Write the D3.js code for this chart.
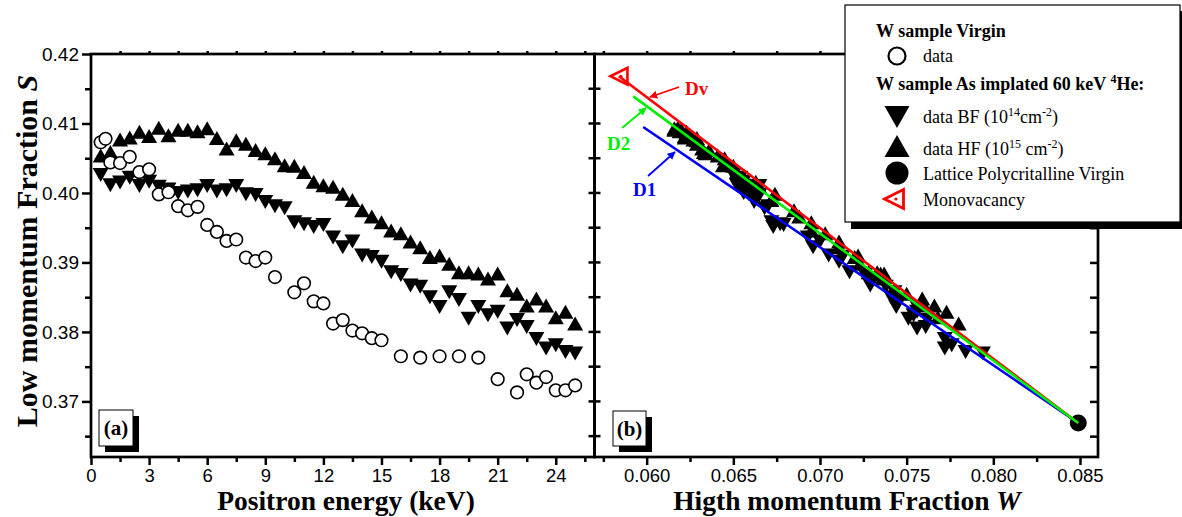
<!DOCTYPE html>
<html><head><meta charset="utf-8">
<script src="https://cdn.jsdelivr.net/npm/d3@7"></script>
<style>body{margin:0;background:#fff}</style>
</head><body><svg id="c" width="1182" height="517"></svg>
<script>
// ---------- DATA ----------
// Panel (a): S vs positron energy
const energyImpl = [0.5,1,1.5,2,2.5,3,3.5,4,4.5,5,5.5,6,6.5,7,7.5,8,8.5,9,9.5,10,10.5,11,11.5,12,12.5,13,13.5,14,14.5,15,15.5,16,16.5,17,17.5,18,18.5,19,19.5,20,20.5,21,21.5,22,22.5,23,23.5,24,24.5,25];
const sBF = [0.4026,0.4011,0.4015,0.4022,0.4010,0.4016,0.4009,0.4005,0.4000,0.4002,0.4004,0.4010,0.4002,0.4004,0.4010,0.3998,0.3997,0.3987,0.3981,0.3978,0.3958,0.3955,0.3951,0.3954,0.3936,0.3922,0.3930,0.3910,0.3908,0.3901,0.3886,0.3882,0.3867,0.3865,0.3850,0.3836,0.3857,0.3846,0.3819,0.3836,0.3824,0.3829,0.3805,0.3817,0.3807,0.3790,0.3776,0.3781,0.3771,0.3769];
const sHF = [0.4054,0.4059,0.4077,0.4080,0.4088,0.4082,0.4094,0.4083,0.4091,0.4091,0.4089,0.4093,0.4079,0.4064,0.4076,0.4071,0.4062,0.4057,0.4050,0.4040,0.4039,0.4030,0.4016,0.4011,0.4009,0.3999,0.3990,0.3975,0.3966,0.3958,0.3946,0.3942,0.3930,0.3922,0.3908,0.3910,0.3898,0.3886,0.3886,0.3884,0.3877,0.3884,0.3860,0.3855,0.3838,0.3848,0.3838,0.3821,0.3829,0.3812];
const energyVirgin = [0.5,0.75,1,1.5,2,2.5,3,3.5,4,4.5,5,5.5,6,6.5,7,7.5,8,8.5,9,9.5,10.5,11,11.5,12,12.5,13,13.5,14,14.5,15,16,17,18,19,20,21,22,22.5,23,23.5,24,24.5,25];
const sVirgin = [0.4073,0.4078,0.4044,0.4043,0.4052,0.4030,0.4034,0.3998,0.4001,0.3981,0.3975,0.3980,0.3954,0.3944,0.3931,0.3933,0.3907,0.3902,0.3907,0.3879,0.3857,0.3870,0.3844,0.3841,0.3812,0.3817,0.3802,0.3798,0.3791,0.3788,0.3765,0.3763,0.3765,0.3765,0.3763,0.3732,0.3713,0.3739,0.3727,0.3735,0.3716,0.3716,0.3723];
// Panel (b): S vs W
const wBF = [0.0650,0.0652,0.0654,0.0654,0.0655,0.0656,0.0658,0.0656,0.0656,0.0661,0.0655,0.0662,0.0663,0.0658,0.0665,0.0659,0.0665,0.0662,0.0670,0.0668,0.0672,0.0677,0.0673,0.0679,0.0693,0.0696,0.0700,0.0705,0.0713,0.0711,0.0717,0.0726,0.0729,0.0738,0.0741,0.0744,0.0743,0.0744,0.0751,0.0756,0.0754,0.0756,0.0756,0.0762,0.0761,0.0772,0.0772,0.0776,0.0784,0.0794];
const wHF = [0.0641,0.0633,0.0627,0.0622,0.0623,0.0622,0.0618,0.0625,0.0616,0.0620,0.0619,0.0616,0.0629,0.0632,0.0629,0.0629,0.0636,0.0634,0.0645,0.0644,0.0650,0.0652,0.0663,0.0660,0.0665,0.0674,0.0672,0.0685,0.0688,0.0695,0.0695,0.0703,0.0711,0.0711,0.0720,0.0722,0.0723,0.0733,0.0728,0.0735,0.0736,0.0737,0.0743,0.0750,0.0760,0.0759,0.0766,0.0768,0.0773,0.0780];
const latticeWS = [0.0849, 0.3669];
const monovacWS = [0.0584, 0.4168];
const fitNames = ["D1","Dv","D2"];
const fitColors = ["#0000ff","#ff0000","#00ee00"];
const fitStartWS = [[0.0598,0.4095],[0.0584,0.4168],[0.05923,0.4139]];
// annotation: label position and arrow tail/head (W,S)
const fitLabelWS = [[0.05921,0.39956],[0.06221,0.41410],[0.05771,0.40618]];
const fitArrowWS = [[[0.06008,0.40244],[0.06163,0.40590]],[[0.06187,0.41525],[0.06019,0.41381]],[[0.05858,0.40935],[0.05996,0.41223]]];
// ticks
const sTicks = [0.37,0.38,0.39,0.40,0.41,0.42];
const sMinor = [0.365,0.375,0.385,0.395,0.405,0.415];
const eTicks = [0,3,6,9,12,15,18,21,24];
const eMinor = [1.5,4.5,7.5,10.5,13.5,16.5,19.5,22.5,25.5];
const wTicks = [0.060,0.065,0.070,0.075,0.080,0.085];
const wMinor = [0.0575,0.0625,0.0675,0.0725,0.0775,0.0825];

// ---------- DRAW ----------
const SERIF = "'Liberation Serif','Times New Roman',serif";
const SANS = "'Liberation Sans',Arial,sans-serif";
const svg = d3.select("#c");
const xA = d3.scaleLinear().domain([0,26]).range([91,594.5]);
const xB = d3.scaleLinear().domain([0.05699,0.08604]).range([594.5,1098]);
const y = d3.scaleLinear().domain([0.362,0.42]).range([457,54]);
const TOP=54, BOT=457, XL=91, XM=594.5, XR=1098;

function tri(w,h,dir){
  if(dir==="up") return `M0,${-h/2}L${w/2},${h/2}L${-w/2},${h/2}Z`;
  if(dir==="down") return `M0,${h/2}L${w/2},${-h/2}L${-w/2},${-h/2}Z`;
  return `M${-w/2},0L${w/2},${-h/2}L${w/2},${h/2}Z`;
}
function styleAxis(g, fs, noText){
  g.select(".domain").remove();
  g.selectAll(".tick line").attr("stroke","#000").attr("stroke-width",2.5);
  if(noText) g.selectAll(".tick text").remove();
  else g.selectAll(".tick text").attr("font-family",SANS).attr("font-size",fs).attr("fill","#000");
}

// panel a axes
let g;
g = svg.append("g").attr("transform",`translate(${XL},0)`).call(d3.axisLeft(y).tickValues(sTicks).tickSize(9).tickPadding(3).tickFormat(d3.format(".2f"))); styleAxis(g,19);
g = svg.append("g").attr("transform",`translate(${XL},0)`).call(d3.axisLeft(y).tickValues(sMinor).tickSize(6)); styleAxis(g,19,true);
g = svg.append("g").attr("transform",`translate(0,${BOT})`).call(d3.axisBottom(xA).tickValues(eTicks).tickSize(8).tickPadding(4).tickFormat(d3.format("d"))); styleAxis(g,18.5);
g = svg.append("g").attr("transform",`translate(0,${BOT})`).call(d3.axisBottom(xA).tickValues(eMinor.filter(v=>v<26)).tickSize(5)); styleAxis(g,19,true);
g = svg.append("g").attr("transform",`translate(0,${TOP})`).call(d3.axisTop(xA).tickValues(eTicks.concat(eMinor).filter(v=>v>0&&v<26)).tickSize(3)); styleAxis(g,19,true);
// panel b axes
g = svg.append("g").attr("transform",`translate(0,${BOT})`).call(d3.axisBottom(xB).tickValues(wTicks).tickSize(8).tickPadding(4).tickFormat(d3.format(".3f"))); styleAxis(g,18.5);
g = svg.append("g").attr("transform",`translate(0,${BOT})`).call(d3.axisBottom(xB).tickValues(wMinor).tickSize(5)); styleAxis(g,19,true);
g = svg.append("g").attr("transform",`translate(0,${TOP})`).call(d3.axisTop(xB).tickValues(wTicks.concat(wMinor)).tickSize(3)); styleAxis(g,19,true);
g = svg.append("g").attr("transform",`translate(${XR},0)`).call(d3.axisLeft(y).tickValues(sTicks.concat(sMinor).filter(v=>v<0.42)).tickSize(8)); styleAxis(g,19,true);
// shared middle axis ticks (both sides)
svg.append("g").selectAll("line").data(sTicks.concat(sMinor).filter(v=>v<0.42)).join("line")
  .attr("x1",XM-6).attr("x2",XM+6).attr("y1",d=>y(d)).attr("y2",d=>y(d)).attr("stroke","#000").attr("stroke-width",2.5);

// frames
svg.append("rect").attr("x",XL).attr("y",TOP).attr("width",XM-XL).attr("height",BOT-TOP).attr("fill","none").attr("stroke","#000").attr("stroke-width",2.7);
svg.append("rect").attr("x",XM).attr("y",TOP).attr("width",XR-XM).attr("height",BOT-TOP).attr("fill","none").attr("stroke","#000").attr("stroke-width",2.7);

// panel a data
const pa = svg.append("g");
pa.selectAll(".bf").data(sBF).join("path").attr("d",tri(16,14,"down"))
  .attr("transform",(d,i)=>`translate(${xA(energyImpl[i])},${y(d)})`).attr("fill","#000");
pa.selectAll(".hf").data(sHF).join("path").attr("d",tri(16,14,"up"))
  .attr("transform",(d,i)=>`translate(${xA(energyImpl[i])},${y(d)})`).attr("fill","#000");
pa.selectAll("circle").data(sVirgin).join("circle")
  .attr("cx",(d,i)=>xA(energyVirgin[i])).attr("cy",d=>y(d)).attr("r",6.3)
  .attr("fill","#fff").attr("stroke","#000").attr("stroke-width",1.6);

// panel b data
const pb = svg.append("g");
pb.selectAll(".bf").data(sBF).join("path").attr("d",tri(16,14,"down"))
  .attr("transform",(d,i)=>`translate(${xB(wBF[i])},${y(d)})`).attr("fill","#000");
pb.selectAll(".hf").data(sHF).join("path").attr("d",tri(16,14,"up"))
  .attr("transform",(d,i)=>`translate(${xB(wHF[i])},${y(d)})`).attr("fill","#000");
pb.append("circle").attr("cx",xB(latticeWS[0])).attr("cy",y(latticeWS[1])).attr("r",8.5).attr("fill","#000");
pb.append("path").attr("d",tri(17,17,"left")).attr("transform",`translate(${xB(monovacWS[0])},${y(monovacWS[1])})`)
  .attr("fill","#fff").attr("stroke","#ff0000").attr("stroke-width",2.6);
pb.append("circle").attr("cx",xB(monovacWS[0])+2).attr("cy",y(monovacWS[1])).attr("r",1.5).attr("fill","#ff0000");
const lineGen = d3.line().x(d=>xB(d[0])).y(d=>y(d[1]));
fitNames.forEach((n,i)=>{
  pb.append("path").attr("d",lineGen([fitStartWS[i],latticeWS])).attr("stroke",fitColors[i]).attr("stroke-width",2.6).attr("fill","none");
});
// arrows + labels
const defs = svg.append("defs");
fitNames.forEach((n,i)=>{
  defs.append("marker").attr("id","ah"+i).attr("viewBox","0 0 10 10").attr("refX",9).attr("refY",5)
    .attr("markerWidth",4.5).attr("markerHeight",4.5).attr("orient","auto")
    .append("path").attr("d","M0,0L10,5L0,10Z").attr("fill",fitColors[i]);
  const a = fitArrowWS[i];
  pb.append("line").attr("x1",xB(a[0][0])).attr("y1",y(a[0][1])).attr("x2",xB(a[1][0])).attr("y2",y(a[1][1]))
    .attr("stroke",fitColors[i]).attr("stroke-width",1.8).attr("marker-end",`url(#ah${i})`);
  pb.append("text").attr("x",xB(fitLabelWS[i][0])).attr("y",y(fitLabelWS[i][1])).text(n)
    .attr("font-family",SERIF).attr("font-weight","bold").attr("font-size",19).attr("fill",fitColors[i]);
});

// panel labels (a) (b)
function panelLabel(x0,y0,w,h,txt){
  svg.append("rect").attr("x",x0+6).attr("y",y0+6).attr("width",w).attr("height",h).attr("fill","#000");
  svg.append("rect").attr("x",x0).attr("y",y0).attr("width",w).attr("height",h).attr("fill","#fff").attr("stroke","#000").attr("stroke-width",1);
  svg.append("text").attr("x",x0+w/2).attr("y",y0+h/2+7).attr("text-anchor","middle").text(txt)
    .attr("font-family",SERIF).attr("font-weight","bold").attr("font-size",21);
}
panelLabel(99,410,34,36,"(a)");
panelLabel(613,411,33,35,"(b)");

// axis titles
svg.append("text").attr("x",346).attr("y",510).attr("text-anchor","middle").attr("font-family",SERIF)
  .attr("font-weight","bold").attr("font-size",27.5).text("Positron energy (keV)");
const tb = svg.append("text").attr("x",847).attr("y",510).attr("text-anchor","middle").attr("font-family",SERIF)
  .attr("font-weight","bold").attr("font-size",27.5);
tb.append("tspan").text("Higth momentum Fraction ");
tb.append("tspan").attr("font-style","italic").text("W");
const ty = svg.append("text").attr("transform","translate(37,251) rotate(-90)").attr("text-anchor","middle")
  .attr("font-family",SERIF).attr("font-weight","bold").attr("font-size",30);
ty.append("tspan").text("Low momentum Fraction ");
ty.append("tspan").attr("font-style","italic").text("S");

// legend
const lg = svg.append("g");
lg.append("rect").attr("x",851).attr("y",11).attr("width",335).attr("height",218).attr("fill","#000");
lg.append("rect").attr("x",845).attr("y",5).attr("width",335).attr("height",217).attr("fill","#fff").attr("stroke","#000").attr("stroke-width",1.2);
function ltext(x,yb,parts,bold){
  const t = lg.append("text").attr("x",x).attr("y",yb).attr("font-family",SERIF).attr("font-size",18)
    .attr("font-weight",bold?"bold":"normal");
  let pendingDy = 0;
  parts.forEach(p=>{
    if(typeof p==="string"){ const s=t.append("tspan").text(p); if(pendingDy){s.attr("dy",pendingDy); pendingDy=0;} }
    else { t.append("tspan").attr("dy",-7).attr("font-size",12).text(p.sup); pendingDy = 7; }
  });
}
ltext(876,37,["W sample Virgin"],true);
lg.append("circle").attr("cx",897).attr("cy",56).attr("r",8.5).attr("fill","#fff").attr("stroke","#000").attr("stroke-width",2.2);
ltext(923,62,["data"]);
ltext(876,90,["W sample As implated 60 keV ",{sup:"4"},"He:"],true);
lg.append("path").attr("d",tri(25,22,"down")).attr("transform","translate(897,117)").attr("fill","#000");
ltext(923,123,["data BF (10",{sup:"14"},"cm",{sup:"-2"},")"]);
lg.append("path").attr("d",tri(25,22,"up")).attr("transform","translate(897,146)").attr("fill","#000");
ltext(923,155,["data HF (10",{sup:"15"}," cm",{sup:"-2"},")"]);
lg.append("circle").attr("cx",897).attr("cy",173).attr("r",11.5).attr("fill","#000");
ltext(923,180,["Lattice Polycritalline Virgin"]);
lg.append("path").attr("d",tri(19,19,"left")).attr("transform","translate(894,199)").attr("fill","#fff").attr("stroke","#ff0000").attr("stroke-width",2.8);
lg.append("circle").attr("cx",896).attr("cy",199).attr("r",1.6).attr("fill","#ff0000");
ltext(923,206,["Monovacancy"]);
</script>
</body></html>
